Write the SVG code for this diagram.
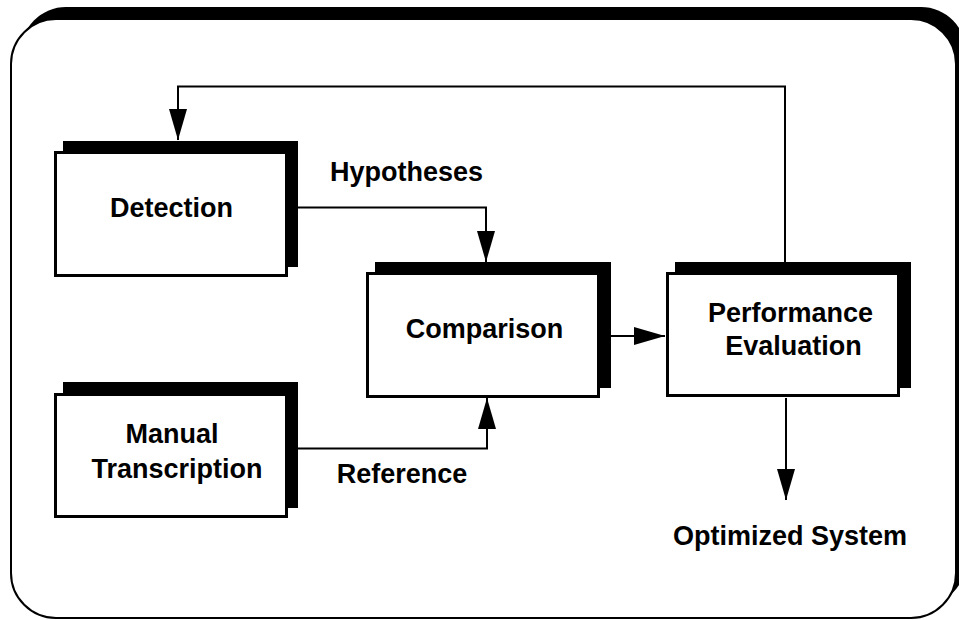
<svg xmlns="http://www.w3.org/2000/svg" width="959" height="620" viewBox="0 0 959 620">
  <defs>
    <style>
      .shadow { fill: #000; }
      .box { fill: #fff; stroke: #000; stroke-width: 3; }
      .frame { fill: #fff; stroke: #000; stroke-width: 2; }
      .label { font-family: "Liberation Sans", Arial, sans-serif; font-weight: bold; font-size: 27px; fill: #000; text-anchor: middle; }
      .wire { fill: none; stroke: #000; stroke-width: 2; }
    </style>
    <marker id="arrow" markerUnits="userSpaceOnUse" markerWidth="32" markerHeight="18" refX="31" refY="9" orient="auto" viewBox="0 0 32 18">
      <path d="M0,0 L31,9 L0,18 Z" fill="#000"/>
    </marker>
  </defs>

  <!-- outer panel with drop shadow -->
  <g id="panel">
    <rect class="shadow" x="21" y="7" width="945" height="599" rx="45" ry="45"/>
    <rect class="frame" x="11" y="19" width="945" height="599" rx="45" ry="45"/>
  </g>

  <!-- connectors -->
  <g id="connectors">
    <path class="wire" d="M785,262 V86.5 H178 V140" marker-end="url(#arrow)"/>
    <path class="wire" d="M298,207.5 H486 V262" marker-end="url(#arrow)"/>
    <path class="wire" d="M298,448.5 H487 V398" marker-end="url(#arrow)"/>
    <path class="wire" d="M611,336 H665" marker-end="url(#arrow)"/>
    <path class="wire" d="M786,398 V500" marker-end="url(#arrow)"/>
  </g>

  <g id="detection">
    <rect class="shadow" x="63" y="141" width="235" height="126"/>
    <rect class="box" x="55.5" y="152.5" width="231" height="123"/>
    <text class="label" x="171.5" y="217">Detection</text>
  </g>

  <g id="manual-transcription">
    <rect class="shadow" x="63" y="382" width="235" height="126"/>
    <rect class="box" x="55.5" y="394.5" width="231" height="122"/>
    <text class="label" x="172" y="443">Manual</text>
    <text class="label" x="177" y="478">Transcription</text>
  </g>

  <g id="comparison">
    <rect class="shadow" x="375" y="262" width="236" height="126"/>
    <rect class="box" x="367.5" y="273.5" width="231" height="123"/>
    <text class="label" x="484.5" y="338">Comparison</text>
  </g>

  <g id="performance-evaluation">
    <rect class="shadow" x="675" y="262" width="236" height="126"/>
    <rect class="box" x="667.5" y="273.5" width="231" height="122"/>
    <text class="label" x="790.5" y="322">Performance</text>
    <text class="label" x="793.5" y="355">Evaluation</text>
  </g>

  <g id="edge-labels">
    <text class="label" x="406.5" y="181">Hypotheses</text>
    <text class="label" x="402" y="483">Reference</text>
    <text class="label" x="790" y="545">Optimized System</text>
  </g>
</svg>
